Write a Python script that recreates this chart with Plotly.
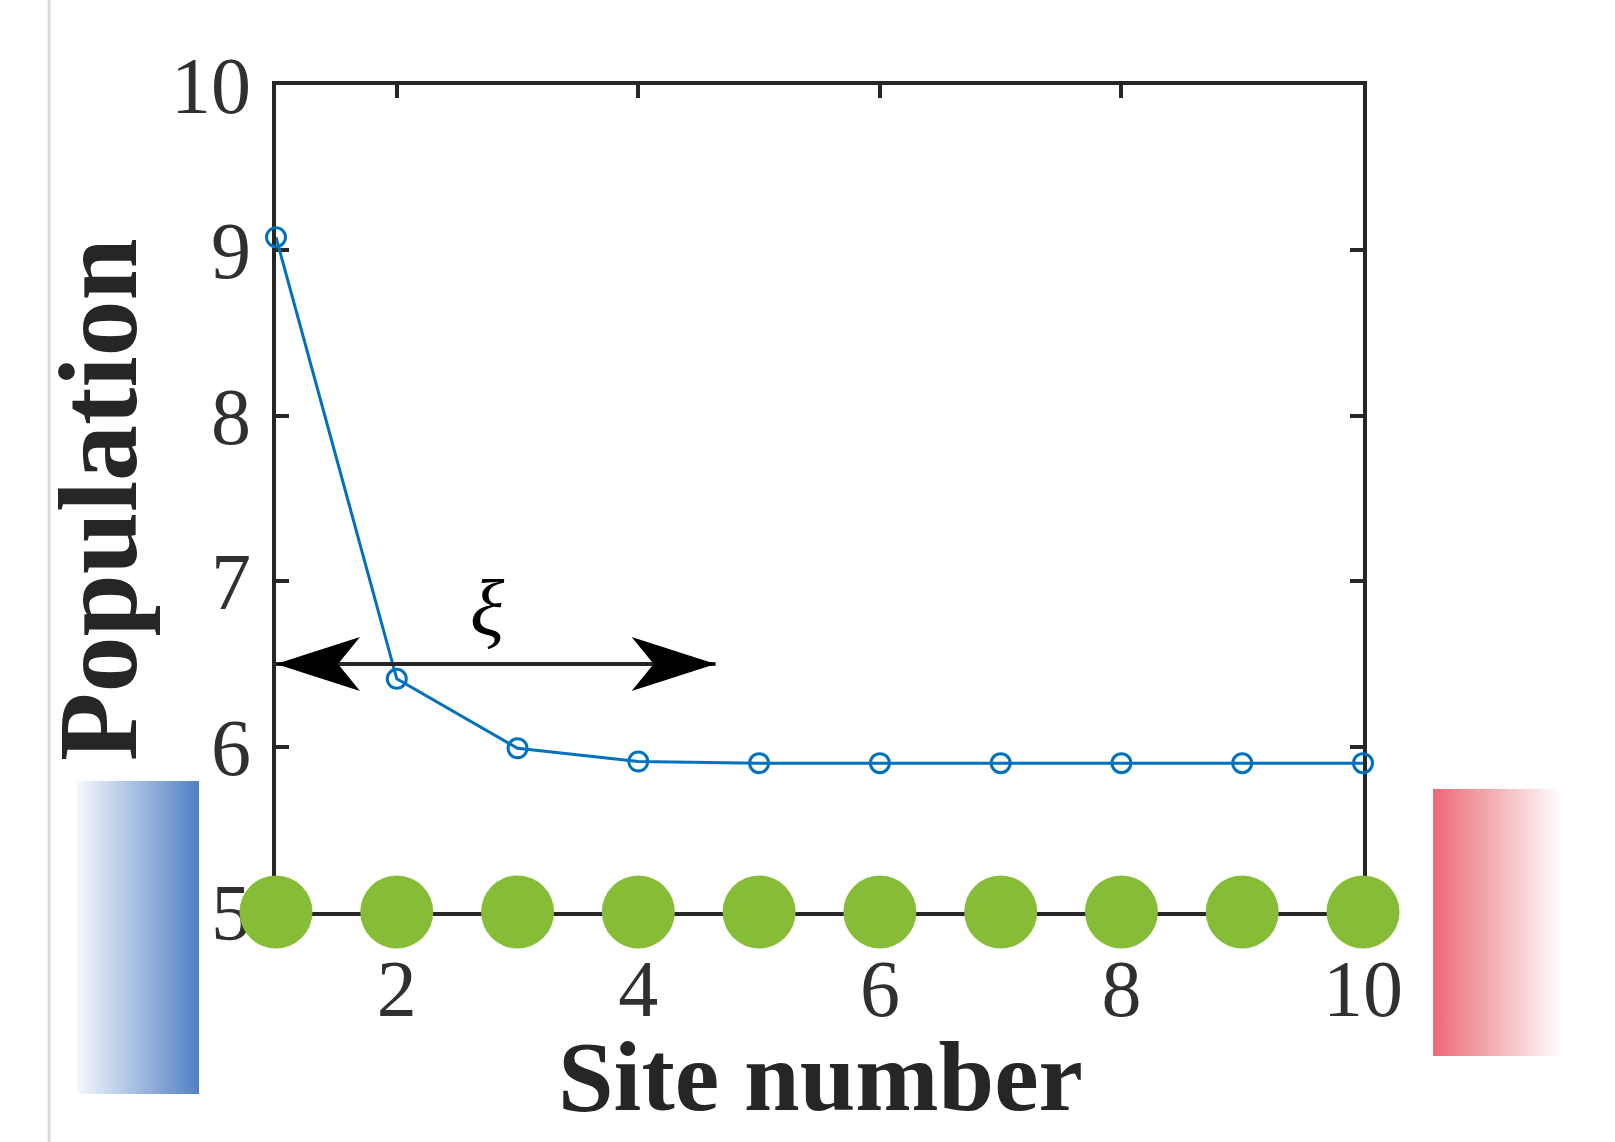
import plotly.graph_objects as go

# ---------------- data ----------------
site = [1, 2, 3, 4, 5, 6, 7, 8, 9, 10]
population = [9.08, 6.41, 5.99, 5.91, 5.90, 5.90, 5.90, 5.90, 5.90, 5.90]
chain_level = [5, 5, 5, 5, 5, 5, 5, 5, 5, 5]   # lattice sites drawn along the axis
x_ticks = [2, 4, 6, 8, 10]
y_ticks = [5, 6, 7, 8, 9, 10]
x_range = [1, 10]
y_range = [5, 10]
xi_label = "ξ"
xi_x, xi_y = 2.75, 6.84
arrow_y = 6.5
arrow_x0, arrow_x1 = 1.0, 4.64

# ---------------- layout constants ----------------
W, H = 1615, 1142
L, R, T, B = 276, 1363, 85, 912
AX = "#262626"
BLUE = "#0072BD"
GREEN = "#86BC36"
FONT = "Liberation Serif"

fig = go.Figure()

# line with open markers
fig.add_trace(go.Scatter(
    x=site, y=population, mode="lines+markers",
    line=dict(color=BLUE, width=3),
    marker=dict(symbol="circle-open", size=19, color=BLUE, line=dict(width=3)),
    cliponaxis=False, showlegend=False, hoverinfo="skip"))

# green lattice sites
fig.add_trace(go.Scatter(
    x=site, y=chain_level, mode="markers",
    marker=dict(symbol="circle", size=73, color=GREEN, line=dict(width=0)),
    cliponaxis=False, showlegend=False, hoverinfo="skip"))

# gradient reservoirs on a full-page pixel subplot
def grad_rect(x0, y0, x1, y1, scale):
    fig.add_trace(go.Scatter(
        x=[x0, x1, x1, x0, x0], y=[y0, y0, y1, y1, y0],
        mode="none", fill="toself",
        fillgradient=dict(type="horizontal", colorscale=scale),
        xaxis="x2", yaxis="y2", showlegend=False, hoverinfo="skip"))

grad_rect(77, 781, 199, 1094, [[0, "rgb(246,248,253)"], [1, "rgb(80,128,196)"]])
grad_rect(1433, 789, 1562, 1056, [[0, "rgb(236,104,116)"], [1, "rgba(255,255,255,1)"]])

axis_common = dict(
    showline=True, linewidth=4, linecolor=AX, mirror="ticks",
    ticks="inside", ticklen=13, tickwidth=4, tickcolor=AX,
    showgrid=False, zeroline=False, layer="below traces", automargin=False,
    tickfont=dict(family=FONT, size=80, color="#303030"),
)

fig.update_layout(
    width=W, height=H,
    margin=dict(l=0, r=0, t=0, b=0, pad=0, autoexpand=False),
    paper_bgcolor="white", plot_bgcolor="rgba(0,0,0,0)",
    showlegend=False,
    xaxis=dict(domain=[L / W, R / W], range=x_range, tickvals=x_ticks,
               ticklabelstandoff=4, anchor="y", **axis_common),
    yaxis=dict(domain=[1 - B / H, 1 - T / H], range=y_range, tickvals=y_ticks,
               ticklabelstandoff=5, anchor="x", **axis_common),
    xaxis2=dict(domain=[0, 1], range=[0, W], visible=False, anchor="y2", fixedrange=True),
    yaxis2=dict(domain=[0, 1], range=[H, 0], visible=False, anchor="x2", fixedrange=True),
)

# arrow (double-headed) for localisation length
fig.add_shape(type="line", xref="x", yref="y", x0=arrow_x0, x1=arrow_x1,
              y0=arrow_y, y1=arrow_y, line=dict(color=AX, width=4))
fig.add_shape(type="path", xref="x", yref="y", xsizemode="pixel", ysizemode="pixel",
              xanchor=arrow_x0, yanchor=arrow_y,
              path="M0,0 L84,27 L62,0 L84,-27 Z", fillcolor="black", line=dict(width=0))
fig.add_shape(type="path", xref="x", yref="y", xsizemode="pixel", ysizemode="pixel",
              xanchor=arrow_x1, yanchor=arrow_y,
              path="M0,0 L-84,27 L-62,0 L-84,-27 Z", fillcolor="black", line=dict(width=0))

# left separator line
fig.add_shape(type="line", xref="paper", yref="paper", x0=49 / W, x1=49 / W, y0=0, y1=1,
              line=dict(color="#D9D9DD", width=3))

fig.add_annotation(x=xi_x, y=xi_y, xref="x", yref="y", text=xi_label, showarrow=False,
                   xanchor="center", yanchor="middle",
                   font=dict(family=FONT, size=80, color="black", style="italic"))

fig.add_annotation(x=98 / W, y=1 - 500 / H, xref="paper", yref="paper", text="Population",
                   textangle=-90, showarrow=False, xanchor="center", yanchor="middle",
                   font=dict(family=FONT, size=112, color=AX, weight="bold"))
fig.add_annotation(x=820 / W, y=1 - 1076 / H, xref="paper", yref="paper", text="Site number",
                   showarrow=False, xanchor="center", yanchor="middle",
                   font=dict(family=FONT, size=100, color=AX, weight="bold"))

fig.write_html("out.html", config={"displayModeBar": False},
               post_script="document.body.style.margin='0px';")
